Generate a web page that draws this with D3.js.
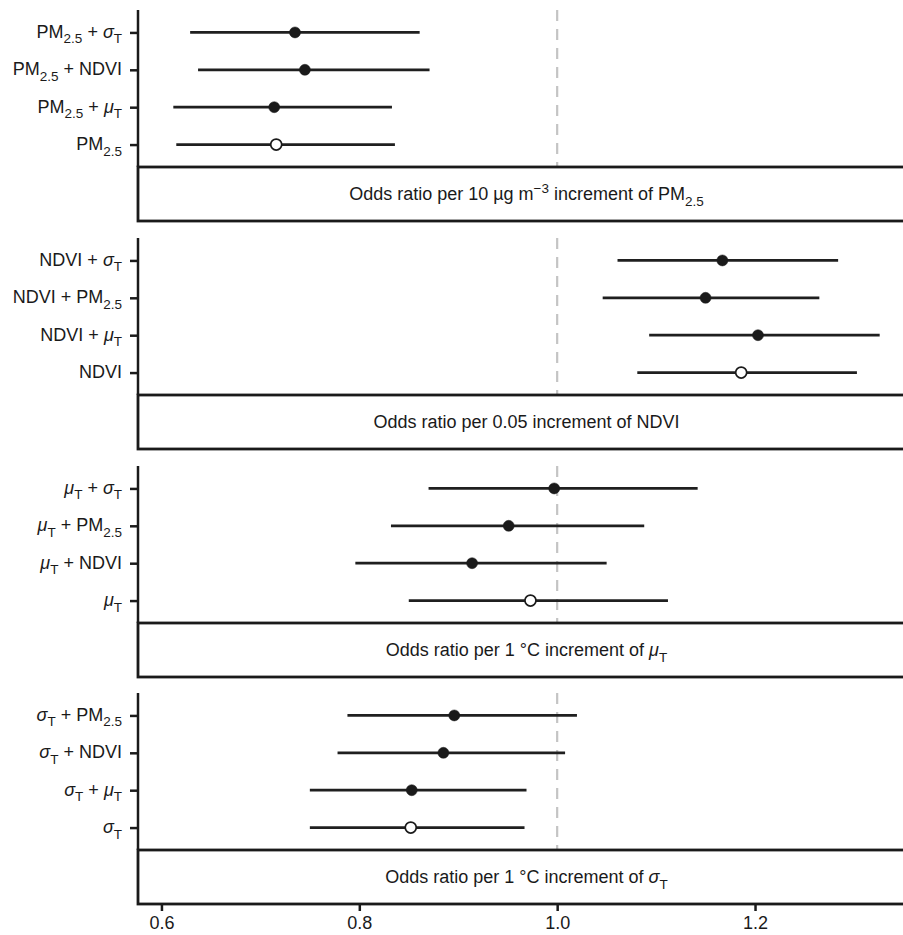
<!DOCTYPE html>
<html>
<head>
<meta charset="utf-8">
<script src="https://cdn.jsdelivr.net/npm/d3@7"></script>
<style>
  html, body { margin: 0; padding: 0; background: #fff; }
  svg { display: block; }
  text { font-family: "Liberation Sans", Arial, Helvetica, sans-serif; fill: #1a1a1a; }
</style>
</head>
<body>
<svg id="chart" width="903" height="935"></svg>
<script>
// ---------------- data ----------------
const catsPM = ["PM_{2.5} + $σ$_{T}", "PM_{2.5} + NDVI", "PM_{2.5} + $μ$_{T}", "PM_{2.5}"];
const orPM = [0.735, 0.745, 0.714, 0.716];
const loPM = [0.629, 0.637, 0.612, 0.615];
const hiPM = [0.861, 0.871, 0.833, 0.836];

const catsNDVI = ["NDVI + $σ$_{T}", "NDVI + PM_{2.5}", "NDVI + $μ$_{T}", "NDVI"];
const orNDVI = [1.167, 1.150, 1.203, 1.186];
const loNDVI = [1.061, 1.046, 1.093, 1.081];
const hiNDVI = [1.284, 1.265, 1.326, 1.303];

const catsMu = ["$μ$_{T} + $σ$_{T}", "$μ$_{T} + PM_{2.5}", "$μ$_{T} + NDVI", "$μ$_{T}"];
const orMu = [0.997, 0.951, 0.914, 0.973];
const loMu = [0.870, 0.832, 0.796, 0.850];
const hiMu = [1.142, 1.088, 1.050, 1.112];

const catsSigma = ["$σ$_{T} + PM_{2.5}", "$σ$_{T} + NDVI", "$σ$_{T} + $μ$_{T}", "$σ$_{T}"];
const orSigma = [0.896, 0.885, 0.853, 0.852];
const loSigma = [0.788, 0.778, 0.750, 0.750];
const hiSigma = [1.020, 1.008, 0.969, 0.967];

// single-exposure model (open circle) vs. two-exposure model (filled)
const singleModel = [false, false, false, true];

const stripTitles = [
  "Odds ratio per 10 µg m^{−3} increment of PM_{2.5}",
  "Odds ratio per 0.05 increment of NDVI",
  "Odds ratio per 1 °C increment of $μ$_{T}",
  "Odds ratio per 1 °C increment of $σ$_{T}"
];

const xTicks = [0.6, 0.8, 1.0, 1.2];
const refValue = 1.0;

// ---------------- layout ----------------
const panels = [
  {cats: catsPM, or: orPM, lo: loPM, hi: hiPM},
  {cats: catsNDVI, or: orNDVI, lo: loNDVI, hi: hiNDVI},
  {cats: catsMu, or: orMu, lo: loMu, hi: hiMu},
  {cats: catsSigma, or: orSigma, lo: loSigma, hi: hiSigma}
];
const panelTops = [10, 238, 466, 693];
const panelH = 157, stripH = 54;
const plotLeft = 138, plotRight = 915;
const fs = 18, subFs = 13.5;

const svg = d3.select("#chart");

const allVals = panels.flatMap(p => p.lo.concat(p.hi));
const ext = d3.extent(allVals);
const pad = (ext[1] - ext[0]) * 0.05;
const x = d3.scaleLinear().domain([ext[0] - pad, ext[1] + pad]).range([plotLeft, plotRight]);

// rich text renderer: _{sub}, ^{sup}, $italic$
function richText(sel, str, baseSize, smallSize, baseShift) {
  sel.text(null).attr("dy", null);
  const parts = str.match(/(_\{[^}]*\}|\^\{[^}]*\}|\$[^$]*\$|[^_^$]+)/g) || [];
  let offset = -baseShift;
  parts.forEach(p => {
    let txt, target, size = baseSize, italic = false;
    if (p.startsWith("_{")) { txt = p.slice(2, -1); target = 5.5; size = smallSize; }
    else if (p.startsWith("^{")) { txt = p.slice(2, -1); target = -7; size = smallSize; }
    else if (p.startsWith("$")) { txt = p.slice(1, -1); target = 0; italic = true; }
    else { txt = p; target = 0; }
    const t = sel.append("tspan")
      .attr("dy", target - offset)
      .style("font-size", size + "px")
      .text(txt);
    if (italic) t.style("font-style", "italic");
    offset = target;
  });
}

panels.forEach((p, i) => {
  const top = panelTops[i];
  const bottom = top + panelH;
  const y = d3.scalePoint().domain(p.cats).range([top, bottom]).padding(0.6);
  const g = svg.append("g");

  // reference line
  g.append("line")
    .attr("x1", x(refValue)).attr("x2", x(refValue))
    .attr("y1", top).attr("y2", bottom)
    .attr("stroke", "#c4c4c4").attr("stroke-width", 2.2)
    .attr("stroke-dasharray", "11,8");

  const rows = p.cats.map((c, k) => ({cat: c, or: p.or[k], lo: p.lo[k], hi: p.hi[k], single: singleModel[k]}));

  g.selectAll("line.ci").data(rows).join("line")
    .attr("class", "ci")
    .attr("x1", d => x(d.lo)).attr("x2", d => x(d.hi))
    .attr("y1", d => y(d.cat)).attr("y2", d => y(d.cat))
    .attr("stroke", "#1f1f1f").attr("stroke-width", 2.7);

  g.selectAll("circle.pt").data(rows).join("circle")
    .attr("class", "pt")
    .attr("cx", d => x(d.or)).attr("cy", d => y(d.cat))
    .attr("r", 5.5)
    .attr("fill", d => d.single ? "#fff" : "#1a1a1a")
    .attr("stroke", "#1a1a1a").attr("stroke-width", d => d.single ? 1.7 : 0.5);

  // y axis
  const yAxis = d3.axisLeft(y).tickSize(8).tickPadding(8);
  const ya = svg.append("g").attr("transform", `translate(${plotLeft},0)`).call(yAxis);
  ya.select(".domain").remove();
  ya.selectAll(".tick line").attr("stroke", "#1a1a1a").attr("stroke-width", 2.5);
  ya.selectAll(".tick text")
    .attr("fill", "#1a1a1a")
    .each(function(d) { richText(d3.select(this), d, fs, subFs, 5); });
  svg.append("line")
    .attr("x1", plotLeft).attr("x2", plotLeft)
    .attr("y1", top).attr("y2", bottom)
    .attr("stroke", "#1a1a1a").attr("stroke-width", 2.5);

  // strip at bottom
  svg.append("rect")
    .attr("x", plotLeft).attr("y", bottom)
    .attr("width", plotRight - plotLeft).attr("height", stripH)
    .attr("fill", "#fff").attr("stroke", "#1a1a1a").attr("stroke-width", 2.8);
  const st = svg.append("text")
    .attr("x", (plotLeft + plotRight) / 2)
    .attr("y", bottom + stripH / 2 + 6)
    .attr("text-anchor", "middle")
    .style("font-size", fs + "px");
  richText(st, stripTitles[i], fs, subFs, 0);

  if (i === panels.length - 1) {
    const xAxis = d3.axisBottom(x).tickValues(xTicks).tickFormat(d3.format(".1f")).tickSize(7).tickPadding(5);
    const xa = svg.append("g").attr("transform", `translate(0,${bottom + stripH})`).call(xAxis);
    xa.select(".domain").remove();
    xa.selectAll(".tick line").attr("stroke", "#1a1a1a").attr("stroke-width", 2.5);
    xa.selectAll(".tick text").style("font-size", fs + "px").attr("fill", "#1a1a1a");
  }
});
</script>
</body>
</html>
